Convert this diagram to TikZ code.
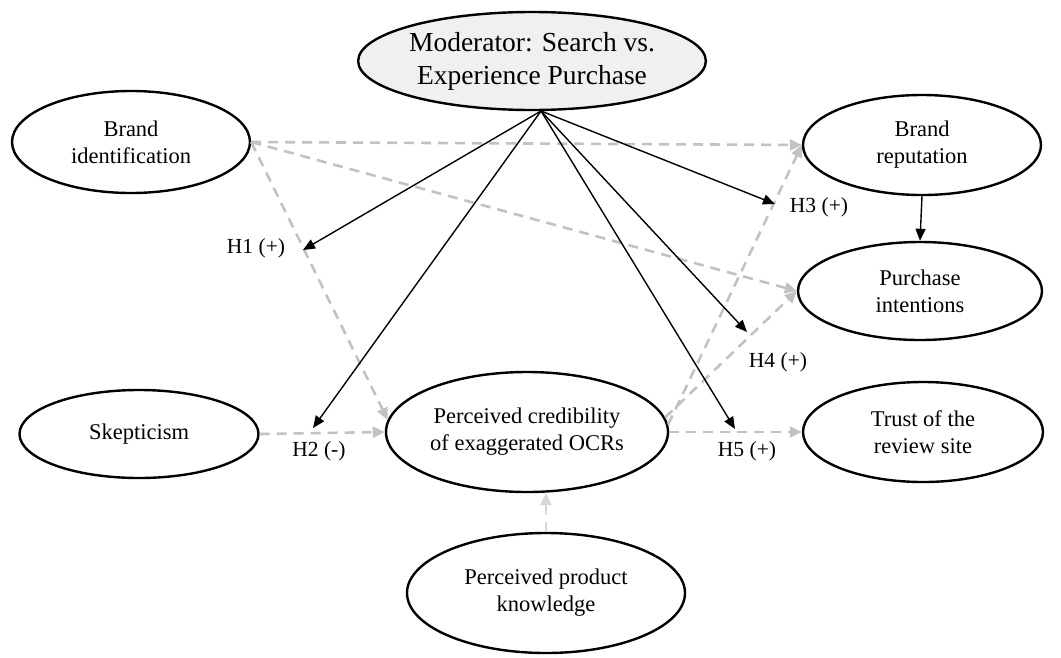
\documentclass[tikz,border=0pt]{standalone}
\usepackage{fontspec}
\setmainfont{Liberation Serif}
\usetikzlibrary{shapes.geometric,arrows.meta}
\definecolor{gcol}{HTML}{C2C2C2}
\definecolor{gcolb}{HTML}{D8D8D8}
\definecolor{modfill}{HTML}{F0F0F0}
\begin{document}
\begin{tikzpicture}[x=1pt,y=-1pt,
  oval/.style={ellipse, draw, line width=2.4pt, inner sep=0pt, align=center,
    font=\fontsize{22.5}{27}\selectfont},
  blk/.style={line width=1.4pt, -{Triangle[length=12pt,width=10pt]}},
  gry/.style={draw=gcol, line width=2.6pt, dash pattern=on 10pt off 7pt,
    -{Triangle[length=12pt,width=11pt,fill=gcol]}},
  hlab/.style={font=\fontsize{21.5}{26}\selectfont, inner sep=0pt}]
\useasboundingbox (0,0) rectangle (1061,657);

\node[oval, fill=modfill, minimum width=344pt, minimum height=98pt,
  font=\fontsize{27.5}{33}\selectfont] (mod) at (532,61) {Moderator: Search vs.\\Experience Purchase};
\node[oval, minimum width=238pt, minimum height=102pt] (bi) at (131,142) {Brand\\identification};
\node[oval, minimum width=238pt, minimum height=100pt] (br) at (922,145) {Brand\\reputation};
\node[oval, minimum width=244pt, minimum height=98pt] (pi) at (920,291) {Purchase\\intentions};
\node[oval, minimum width=239pt, minimum height=88pt] (sk) at (139,434) {Skepticism};
\node[oval, minimum width=282pt, minimum height=120pt] (pc) at (527,432) {Perceived credibility\\of exaggerated OCRs};
\node[oval, minimum width=240pt, minimum height=100pt] (tr) at (923,432) {Trust of the\\review site};
\node[oval, minimum width=278pt, minimum height=120pt] (pk) at (546,593) {Perceived product\\knowledge};

\node[hlab] (h1) at (256,248) {H1 (+)};
\node[hlab] (h2) at (319,451) {H2 (-)};
\node[hlab] (h3) at (819,207) {H3 (+)};
\node[hlab] (h4) at (778,362) {H4 (+)};
\node[hlab] (h5) at (747,451) {H5 (+)};

\coordinate (m0) at (541,111);
\coordinate (t1) at (303,250);
\coordinate (t2) at (313,428);
\coordinate (t3) at (775,204);
\coordinate (t4) at (747,332);
\coordinate (t5) at (735,429);

% gray dashed paths
\draw[gry] (bi.east) -- (br.west);
\draw[gry] (bi.east) -- (pi.west);
\draw[gry] (bi.east) -- (pc.175);
\draw[gry] (sk.east) -- (pc.west);
\draw[gry] (pc.3) -- (br.west);
\draw[gry] (pc.6) -- (pi.west);
\draw[gry] (pc.east) -- (tr.west);
\draw[gry, draw=gcolb, -{Triangle[length=12pt,width=11pt,fill=gcolb]}] (pk.north) -- (pk.north |- pc.south);

% black arrows
\draw[blk] (br.south) -- (pi.north);
\draw[blk] (m0) -- (t1);
\draw[blk] (m0) -- (t2);
\draw[blk] (m0) -- (t3);
\draw[blk] (m0) -- (t4);
\draw[blk] (m0) -- (t5);
\end{tikzpicture}
\end{document}
